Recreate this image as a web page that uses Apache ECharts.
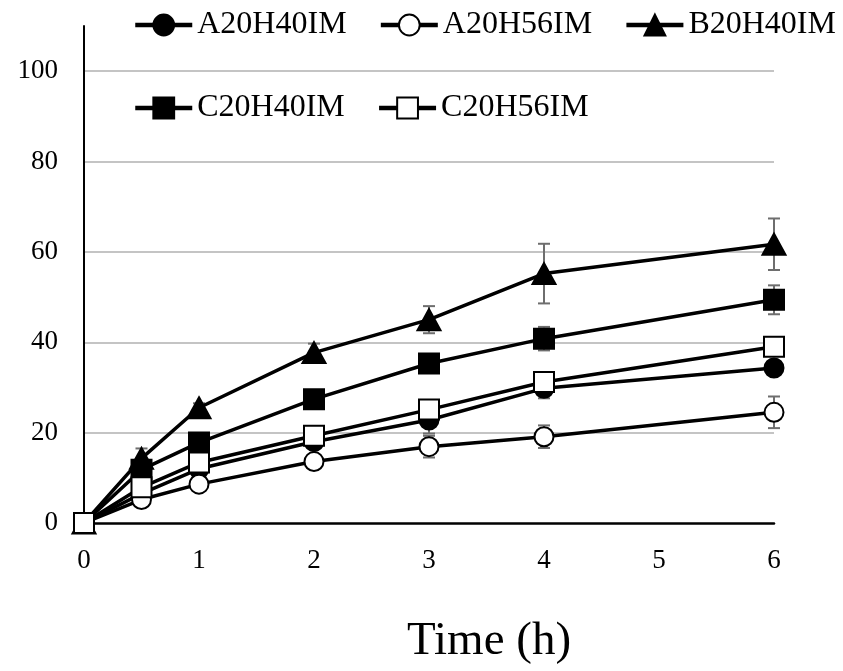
<!DOCTYPE html>
<html>
<head>
<meta charset="utf-8">
<script src="https://cdn.jsdelivr.net/npm/echarts@6/dist/echarts.min.js"></script>
<style>html,body{margin:0;padding:0;background:#fff}#c{width:843px;height:671px}</style>
</head>
<body>
<div id="c"></div>
<script>
const times = [0, 0.5, 1, 2, 3, 4, 6];
const seriesNames = ['A20H40IM', 'A20H56IM', 'B20H40IM', 'C20H40IM', 'C20H56IM'];
const A20H40IM = [0, 6.5, 12, 18, 22.8, 29.8, 34.3];
const A20H56IM = [0, 5.2, 8.6, 13.6, 16.9, 19.1, 24.5];
const B20H40IM = [0, 14.3, 25.5, 37.7, 45.0, 55.2, 61.7];
const C20H40IM = [0, 11.8, 17.8, 27.4, 35.3, 40.8, 49.4];
const C20H56IM = [0, 7.9, 13.4, 19.3, 25.1, 31.2, 39.0];
const A20H40IM_err = [0, 1, 1, 1, 3.0, 2.2, 1.2];
const A20H56IM_err = [0, 1, 1, 1.2, 2.4, 2.5, 3.5];
const B20H40IM_err = [0, 2.2, 1, 2, 3.0, 6.6, 5.7];
const C20H40IM_err = [0, 1, 1, 1, 1.2, 2.6, 3.2];
const C20H56IM_err = [0, 1, 1, 1, 1, 1, 1];
const yTicks = [0, 20, 40, 60, 80, 100];
const xTicks = [0, 1, 2, 3, 4, 5, 6];

const values = [A20H40IM, A20H56IM, B20H40IM, C20H40IM, C20H56IM];
const errors = [A20H40IM_err, A20H56IM_err, B20H40IM_err, C20H40IM_err, C20H56IM_err];
const symbols = ['circle', 'circle', 'triangle', 'rect', 'rect'];
const fills = ['#000', '#fff', '#000', '#000', '#fff'];
const sizes = [19, 19, [23, 21], 20, 20];

const font = '"Liberation Serif", "Times New Roman", serif';
const chart = echarts.init(document.getElementById('c'), null, {renderer: 'canvas'});

const series = [];
values.forEach((vals, si) => {
  const data = times.map((t, i) => [t, vals[i] - errors[si][i], vals[i] + errors[si][i]]);
  series.push({
    type: 'custom',
    name: seriesNames[si] + '_err',
    z: 1,
    silent: true,
    encode: {x: 0, y: [1, 2]},
    data: data,
    renderItem: function (params, api) {
      const x = api.value(0);
      const lo = api.coord([x, api.value(1)]);
      const hi = api.coord([x, api.value(2)]);
      const hw = 6;
      const st = {stroke: '#6e6e6e', lineWidth: 2};
      return {
        type: 'group',
        children: [
          {type: 'line', shape: {x1: lo[0], y1: lo[1], x2: hi[0], y2: hi[1]}, style: st},
          {type: 'line', shape: {x1: lo[0] - hw, y1: lo[1], x2: lo[0] + hw, y2: lo[1]}, style: st},
          {type: 'line', shape: {x1: hi[0] - hw, y1: hi[1], x2: hi[0] + hw, y2: hi[1]}, style: st}
        ]
      };
    }
  });
});
values.forEach((vals, si) => {
  series.push({
    type: 'line',
    name: seriesNames[si],
    z: 3 + si,
    data: times.map((t, i) => [t, vals[i]]),
    symbol: symbols[si],
    symbolSize: sizes[si],
    showAllSymbol: true,
    lineStyle: {color: '#000', width: 3.5},
    itemStyle: {color: fills[si], borderColor: '#000', borderWidth: 2, opacity: 1},
    emphasis: {disabled: true}
  });
});

const legendCommon = {
  orient: 'horizontal',
  left: 133,
  width: 720,
  padding: 0,
  itemWidth: 57,
  itemHeight: 26,
  itemGap: 32,
  selectedMode: false,
  lineStyle: {width: 4.5},
  textStyle: {fontFamily: font, fontSize: 32, color: '#000', lineHeight: 32}
};

chart.setOption({
  animation: false,
  backgroundColor: '#fff',
  title: {
    text: 'Time (h)',
    left: 407,
    top: 618,
    padding: 0,
    textStyle: {fontFamily: font, fontSize: 47, fontWeight: 'normal', color: '#000'}
  },
  legend: [
    Object.assign({}, legendCommon, {top: 9, data: seriesNames.slice(0, 3)}),
    Object.assign({}, legendCommon, {top: 92, data: seriesNames.slice(3)})
  ],
  grid: {left: 84, right: 69, top: 26, bottom: 148, containLabel: false},
  xAxis: {
    type: 'value',
    min: xTicks[0],
    max: xTicks[xTicks.length - 1],
    interval: 1,
    axisLine: {show: true, onZero: false, lineStyle: {color: '#000', width: 2.5}},
    axisTick: {show: false},
    splitLine: {show: false},
    axisLabel: {fontFamily: font, fontSize: 27, color: '#000', margin: 24}
  },
  yAxis: {
    type: 'value',
    min: yTicks[0],
    max: 110,
    interval: 20,
    axisLine: {show: true, lineStyle: {color: '#000', width: 2}},
    axisTick: {show: false},
    splitLine: {show: true, showMaxLine: false, showMinLine: false, lineStyle: {color: '#c4c4c4', width: 2}},
    axisLabel: {
      fontFamily: font, fontSize: 27, color: '#000', margin: 26,
      showMaxLabel: false,
      formatter: function (v) { return yTicks.indexOf(v) >= 0 ? String(v) : ''; }
    }
  },
  series: series
});
</script>
</body>
</html>
